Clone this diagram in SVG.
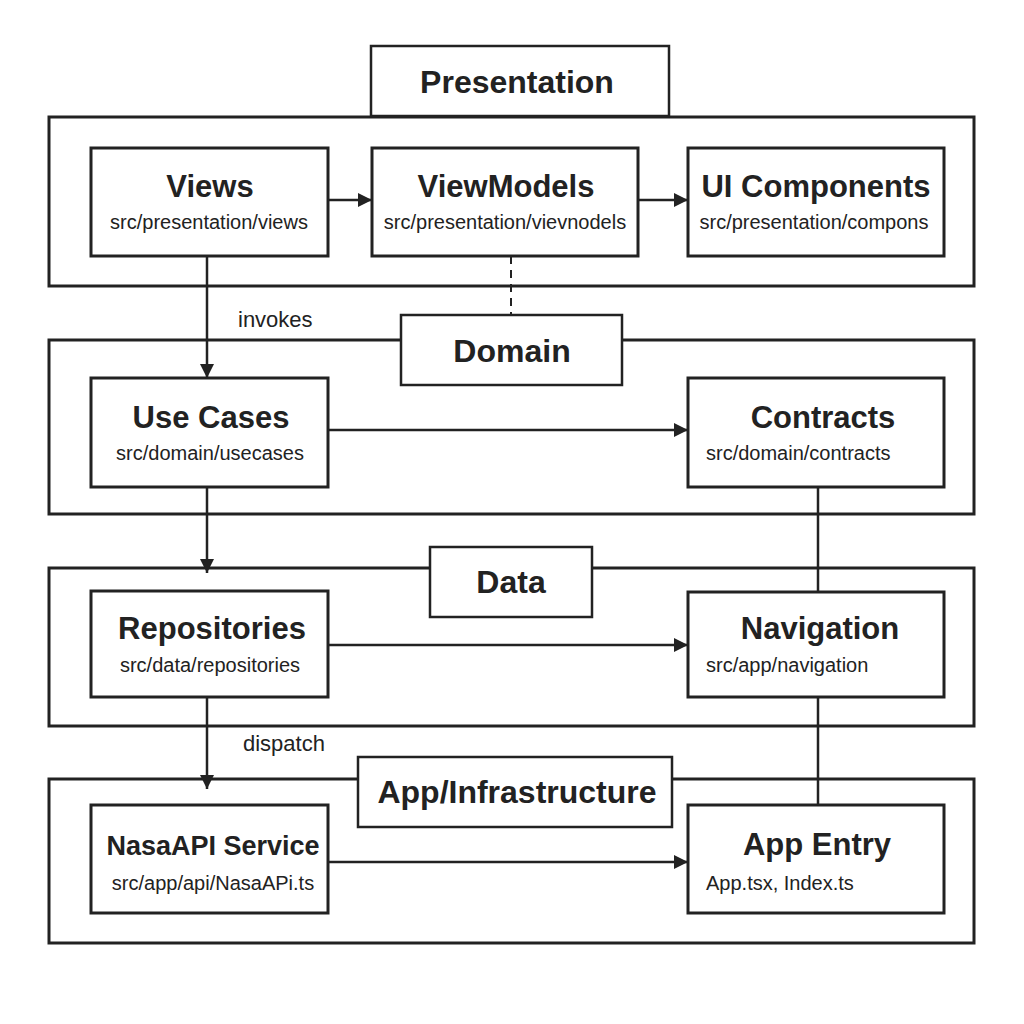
<svg xmlns="http://www.w3.org/2000/svg" width="1024" height="1024" viewBox="0 0 1024 1024">
<defs>
<style>
.layer{fill:#fff;stroke:#222;stroke-width:3}
.lbl{fill:#fff;stroke:#222;stroke-width:2.5}
.node{fill:#fff;stroke:#222;stroke-width:3}
.ltxt{font-family:"Liberation Sans",Arial,sans-serif;font-weight:bold;font-size:32px;fill:#222;text-anchor:middle}
.title{font-family:"Liberation Sans",Arial,sans-serif;font-weight:bold;font-size:31px;fill:#222;text-anchor:middle}
.sub{font-family:"Liberation Sans",Arial,sans-serif;font-size:20px;fill:#222;text-anchor:middle}
.subl{font-family:"Liberation Sans",Arial,sans-serif;font-size:20px;fill:#222;text-anchor:start}
.edge{fill:none;stroke:#222;stroke-width:2.5}
.dash{fill:none;stroke:#222;stroke-width:2;stroke-dasharray:8 6}
.etxt{font-family:"Liberation Sans",Arial,sans-serif;font-size:22px;fill:#222}
</style>
<marker id="arr" viewBox="0 0 14 14" refX="14" refY="7" markerWidth="14" markerHeight="14" markerUnits="userSpaceOnUse" orient="auto">
<path d="M0,0 L14,7 L0,14 z" fill="#222"/>
</marker>
</defs>
<rect width="1024" height="1024" fill="#fff"/>

<g id="layer-presentation">
<rect class="layer" x="49" y="117" width="925" height="169"/>
<rect class="lbl" x="371" y="46" width="298" height="70"/>
<text class="ltxt" x="517" y="93">Presentation</text>
</g>
<g id="layer-domain">
<rect class="layer" x="49" y="340" width="925" height="174"/>
<rect class="lbl" x="401" y="315" width="221" height="70"/>
<text class="ltxt" x="512" y="362">Domain</text>
</g>
<g id="layer-data">
<rect class="layer" x="49" y="568" width="925" height="158"/>
<rect class="lbl" x="430" y="547" width="162" height="70"/>
<text class="ltxt" x="511" y="593">Data</text>
</g>
<g id="layer-app">
<rect class="layer" x="49" y="779" width="925" height="164"/>
<rect class="lbl" x="358" y="757" width="314" height="70"/>
<text class="ltxt" x="517" y="803">App/Infrastructure</text>
</g>

<g id="connectors">
<line class="edge" x1="328" y1="200" x2="372" y2="200" marker-end="url(#arr)"/>
<line class="edge" x1="638" y1="200" x2="688" y2="200" marker-end="url(#arr)"/>
<line class="dash" x1="511" y1="256" x2="511" y2="315"/>
<line class="edge" x1="207" y1="256" x2="207" y2="378" marker-end="url(#arr)"/>
<text class="etxt" x="238" y="327">invokes</text>
<line class="edge" x1="328" y1="430" x2="688" y2="430" marker-end="url(#arr)"/>
<line class="edge" x1="818" y1="487" x2="818" y2="592"/>
<line class="edge" x1="207" y1="487" x2="207" y2="573" marker-end="url(#arr)"/>
<line class="edge" x1="328" y1="645" x2="688" y2="645" marker-end="url(#arr)"/>
<line class="edge" x1="818" y1="697" x2="818" y2="805"/>
<line class="edge" x1="207" y1="697" x2="207" y2="789" marker-end="url(#arr)"/>
<text class="etxt" x="243" y="751">dispatch</text>
<line class="edge" x1="328" y1="862" x2="688" y2="862" marker-end="url(#arr)"/>
</g>

<g id="node-views">
<rect class="node" x="91" y="148" width="237" height="108"/>
<text class="title" x="210" y="197">Views</text>
<text class="sub" x="209" y="229">src/presentation/views</text>
</g>
<g id="node-viewmodels">
<rect class="node" x="372" y="148" width="266" height="108"/>
<text class="title" x="506" y="197">ViewModels</text>
<text class="sub" x="505" y="229">src/presentation/vievnodels</text>
</g>
<g id="node-ui-components">
<rect class="node" x="688" y="148" width="256" height="108"/>
<text class="title" x="816" y="197">UI Components</text>
<text class="sub" x="814" y="229">src/presentation/compons</text>
</g>
<g id="node-use-cases">
<rect class="node" x="91" y="378" width="237" height="109"/>
<text class="title" x="211" y="428">Use Cases</text>
<text class="sub" x="210" y="460">src/domain/usecases</text>
</g>
<g id="node-contracts">
<rect class="node" x="688" y="378" width="256" height="109"/>
<text class="title" x="823" y="428">Contracts</text>
<text class="subl" x="706" y="460">src/domain/contracts</text>
</g>
<g id="node-repositories">
<rect class="node" x="91" y="591" width="237" height="106"/>
<text class="title" x="212" y="639">Repositories</text>
<text class="sub" x="210" y="672">src/data/repositories</text>
</g>
<g id="node-navigation">
<rect class="node" x="688" y="592" width="256" height="105"/>
<text class="title" x="820" y="639">Navigation</text>
<text class="subl" x="706" y="672">src/app/navigation</text>
</g>
<g id="node-nasaapi">
<rect class="node" x="91" y="805" width="237" height="108"/>
<text class="title" x="213" y="855" style="font-size:27px">NasaAPI Service</text>
<text class="sub" x="213" y="890">src/app/api/NasaAPi.ts</text>
</g>
<g id="node-app-entry">
<rect class="node" x="688" y="805" width="256" height="108"/>
<text class="title" x="817" y="855">App Entry</text>
<text class="subl" x="706" y="890">App.tsx, Index.ts</text>
</g>
</svg>
